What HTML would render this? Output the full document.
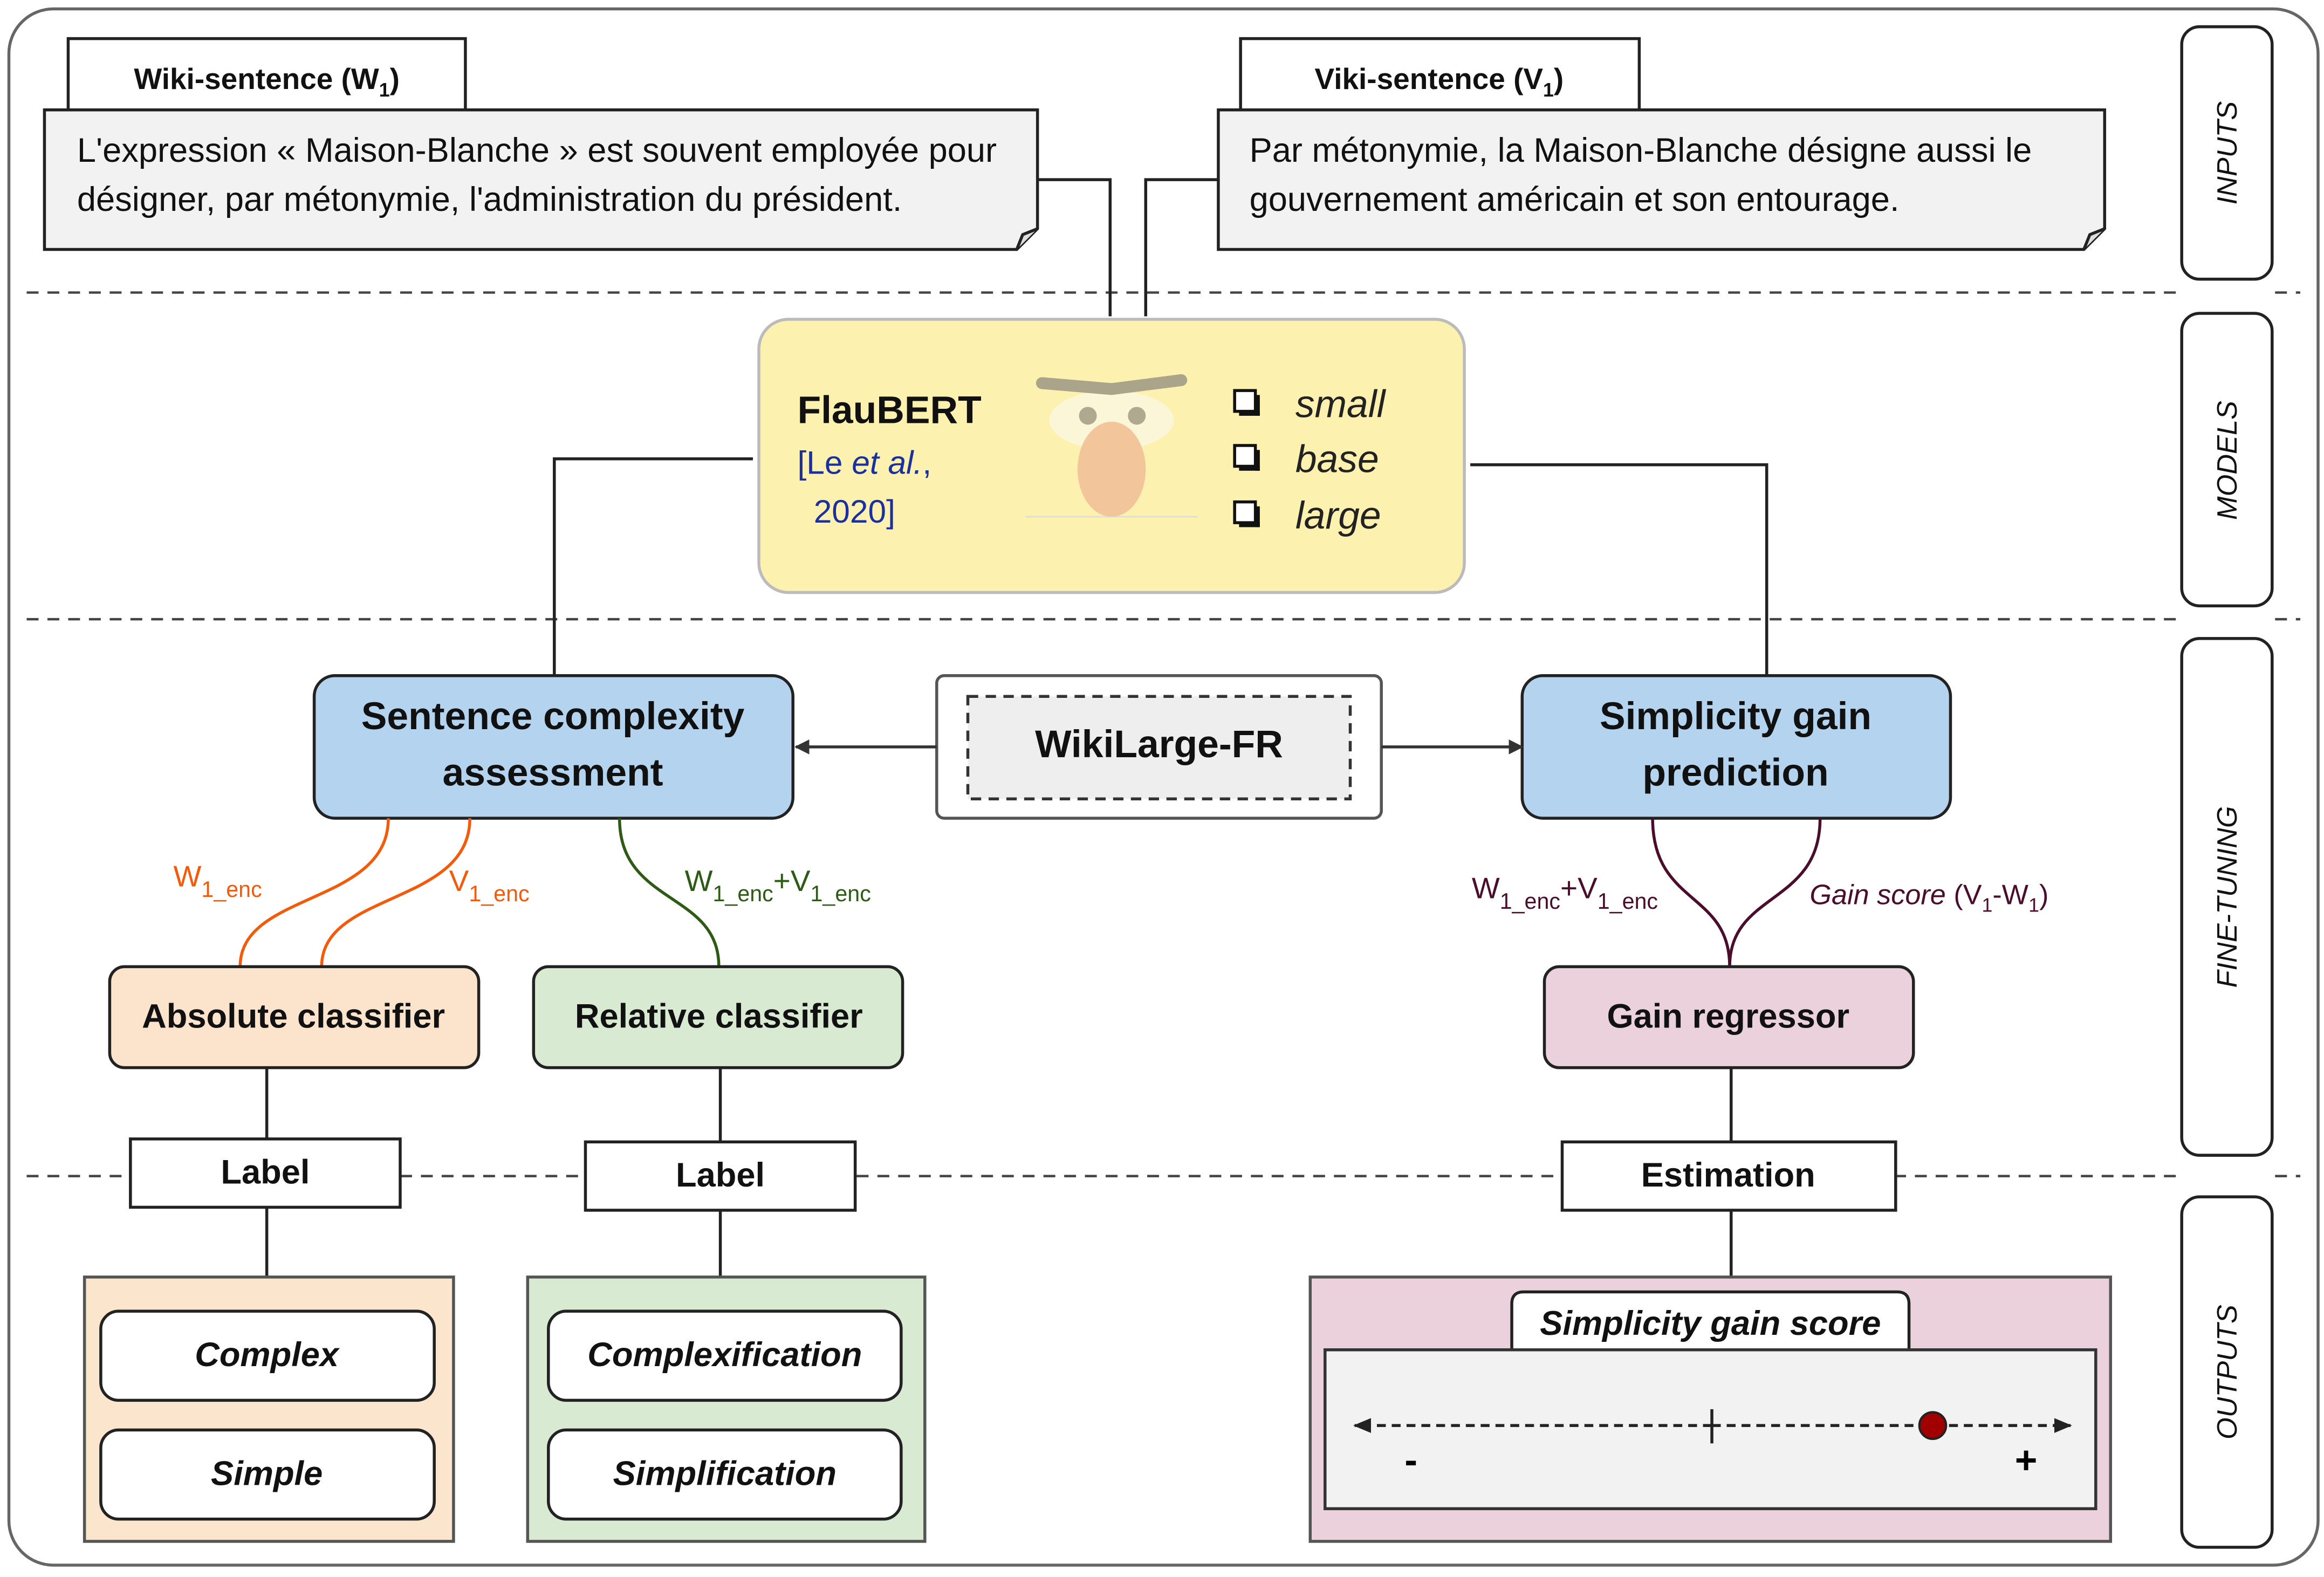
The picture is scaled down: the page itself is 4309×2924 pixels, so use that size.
<!DOCTYPE html>
<html><head><meta charset="utf-8"><style>
html,body{margin:0;padding:0;background:#fff}
svg{display:block}
text{font-family:"Liberation Sans",sans-serif}
</style></head><body>
<svg width="4309" height="2924" viewBox="0 0 1568 1062" preserveAspectRatio="none" xmlns="http://www.w3.org/2000/svg">
<defs>
<marker id="ah" markerWidth="10" markerHeight="10" refX="9" refY="5" orient="auto" markerUnits="userSpaceOnUse"><path d="M0,0 L10,5 L0,10 z" fill="#333"/></marker>
<marker id="ah2" markerWidth="12" markerHeight="10" refX="11" refY="5" orient="auto" markerUnits="userSpaceOnUse"><path d="M0,0 L12,5 L0,10 z" fill="#222"/></marker>
</defs>
<rect x="6" y="6" width="1558" height="1048" rx="30" fill="#fff" stroke="#666" stroke-width="2"/>
<g stroke="#444" stroke-width="1.6" stroke-dasharray="8,6">
<line x1="18" y1="197" x2="1470" y2="197"/><line x1="1535" y1="197" x2="1552" y2="197"/>
<line x1="18" y1="417" x2="1470" y2="417"/><line x1="1535" y1="417" x2="1552" y2="417"/>
<line x1="18" y1="792" x2="1470" y2="792"/><line x1="1535" y1="792" x2="1552" y2="792"/>
</g>
<g fill="#fff" stroke="#222" stroke-width="2">
<rect x="1472" y="18" width="61" height="170" rx="12"/>
<rect x="1472" y="211" width="61" height="197" rx="12"/>
<rect x="1472" y="430" width="61" height="348" rx="12"/>
<rect x="1472" y="806" width="61" height="236" rx="12"/>
</g>
<g font-size="19" font-style="italic" fill="#111" text-anchor="middle">
<text transform="translate(1509,103) rotate(-90)">INPUTS</text>
<text transform="translate(1509,310) rotate(-90)">MODELS</text>
<text transform="translate(1509,604) rotate(-90)">FINE-TUNING</text>
<text transform="translate(1509,924) rotate(-90)">OUTPUTS</text>
</g>
<g stroke="#222" stroke-width="2">
<rect x="46" y="26" width="268" height="48" fill="#fff"/>
<path d="M30,74 H700 V154 L686,168 H30 Z" fill="#f2f2f2"/>
<path d="M686,168 L690,158 L700,154" fill="#ddd"/>
<rect x="837" y="26" width="269" height="48" fill="#fff"/>
<path d="M822,74 H1420 V154 L1406,168 H822 Z" fill="#f2f2f2"/>
<path d="M1406,168 L1410,158 L1420,154" fill="#ddd"/>
</g>
<g font-size="20" font-weight="bold" fill="#111" text-anchor="middle">
<text x="180" y="60">Wiki-sentence (W<tspan font-size="13" dy="5">1</tspan><tspan dy="-5">)</tspan></text>
<text x="971" y="60">Viki-sentence (V<tspan font-size="13" dy="5">1</tspan><tspan dy="-5">)</tspan></text>
</g>
<g font-size="23" fill="#111">
<text x="52" y="109">L'expression « Maison-Blanche » est souvent employée pour</text>
<text x="52" y="142">désigner, par métonymie, l'administration du président.</text>
<text x="843" y="109">Par métonymie, la Maison-Blanche désigne aussi le</text>
<text x="843" y="142">gouvernement américain et son entourage.</text>
</g>
<g fill="none" stroke="#222" stroke-width="2">
<path d="M700,121 H749 V213"/>
<path d="M822,121 H773 V213"/>
<path d="M508,309 H374 V455"/>
<path d="M992,313 H1192 V455"/>
</g>
<rect x="512" y="215" width="476" height="184" rx="20" fill="#fdf1b0" stroke="#bbb" stroke-width="2"/>
<text x="538" y="285" font-size="26" font-weight="bold" fill="#111">FlauBERT</text>
<text x="538" y="319" font-size="22" fill="#1a2fa0">[Le <tspan font-style="italic">et al.</tspan>,</text>
<text x="549" y="352" font-size="22" fill="#1a2fa0">2020]</text>
<g>
<line x1="692" y1="348" x2="808" y2="348" stroke="#ddd" stroke-width="1"/>
<ellipse cx="750" cy="283" rx="42" ry="20" fill="#fbf6d8"/>
<path d="M703,258 L750,262 L797,256" stroke="#aaa48a" stroke-width="8" fill="none" stroke-linecap="round"/>
<circle cx="734" cy="280" r="6" fill="#b0a990"/>
<circle cx="767" cy="280" r="6" fill="#b0a990"/>
<ellipse cx="750" cy="316" rx="23" ry="32" fill="#f2c69a"/>
</g>
<g font-size="26" font-style="italic" fill="#222">
<text x="874" y="281">small</text>
<text x="874" y="318">base</text>
<text x="874" y="356">large</text>
</g>
<g fill="#fff" stroke="#111" stroke-width="2">
<rect x="833" y="263" width="14" height="14"/><rect x="833" y="300" width="14" height="14"/><rect x="833" y="338" width="14" height="14"/>
</g>
<g fill="#111"><rect x="847" y="266" width="3" height="14"/><rect x="836" y="277" width="14" height="3"/>
<rect x="847" y="303" width="3" height="14"/><rect x="836" y="314" width="14" height="3"/>
<rect x="847" y="341" width="3" height="14"/><rect x="836" y="352" width="14" height="3"/></g>
<rect x="212" y="455" width="323" height="96" rx="14" fill="#b4d3ee" stroke="#222" stroke-width="2"/>
<rect x="1027" y="455" width="289" height="96" rx="14" fill="#b4d3ee" stroke="#222" stroke-width="2"/>
<rect x="632" y="455" width="300" height="96" rx="5" fill="#fff" stroke="#555" stroke-width="2"/>
<rect x="653" y="469" width="258" height="69" fill="#eee" stroke="#333" stroke-width="2" stroke-dasharray="7,5"/>
<g font-size="26" font-weight="bold" fill="#111" text-anchor="middle">
<text x="373" y="491">Sentence complexity</text>
<text x="373" y="529">assessment</text>
<text x="1171" y="491">Simplicity gain</text>
<text x="1171" y="529">prediction</text>
<text x="782" y="510">WikiLarge-FR</text>
</g>
<line x1="632" y1="503" x2="537" y2="503" stroke="#333" stroke-width="2" marker-end="url(#ah)"/>
<line x1="932" y1="503" x2="1027" y2="503" stroke="#333" stroke-width="2" marker-end="url(#ah)"/>
<g fill="none" stroke-width="2">
<path d="M262,551 C262,610 162,600 162,651" stroke="#f55a0a"/>
<path d="M317,551 C317,610 217,600 217,651" stroke="#f55a0a"/>
<path d="M418,551 C418,610 485,600 485,651" stroke="#2d5a14"/>
<path d="M1115,551 C1115,610 1167,600 1167,651" stroke="#4a0d2c"/>
<path d="M1228,551 C1228,610 1167,600 1167,651" stroke="#4a0d2c"/>
</g>
<g font-size="20">
<text x="117" y="597" fill="#f55a0a">W<tspan font-size="15" dy="7">1_enc</tspan></text>
<text x="303" y="600" fill="#f55a0a">V<tspan font-size="15" dy="7">1_enc</tspan></text>
<text x="462" y="600" fill="#2d5a14">W<tspan font-size="15" dy="7">1_enc</tspan><tspan dy="-7">+V</tspan><tspan font-size="15" dy="7">1_enc</tspan></text>
<text x="993" y="605" fill="#4a0d2c">W<tspan font-size="15" dy="7">1_enc</tspan><tspan dy="-7">+V</tspan><tspan font-size="15" dy="7">1_enc</tspan></text>
<text x="1221" y="609" fill="#4a0d2c" font-size="19"><tspan font-style="italic">Gain score</tspan> (V<tspan font-size="13" dy="5">1</tspan><tspan dy="-5">-W</tspan><tspan font-size="13" dy="5">1</tspan><tspan dy="-5">)</tspan></text>
</g>
<rect x="74" y="651" width="249" height="68" rx="10" fill="#fce3cc" stroke="#222" stroke-width="2"/>
<rect x="360" y="651" width="249" height="68" rx="10" fill="#d9ead3" stroke="#222" stroke-width="2"/>
<rect x="1042" y="651" width="249" height="68" rx="10" fill="#ead1dc" stroke="#222" stroke-width="2"/>
<g font-size="23" font-weight="bold" fill="#111" text-anchor="middle">
<text x="198" y="692">Absolute classifier</text>
<text x="485" y="692">Relative classifier</text>
<text x="1166" y="692">Gain regressor</text>
</g>
<g stroke="#222" stroke-width="2">
<line x1="180" y1="719" x2="180" y2="767"/><line x1="180" y1="813" x2="180" y2="860"/>
<line x1="486" y1="719" x2="486" y2="769"/><line x1="486" y1="815" x2="486" y2="860"/>
<line x1="1168" y1="719" x2="1168" y2="769"/><line x1="1168" y1="815" x2="1168" y2="860"/>
</g>
<g fill="#fff" stroke="#222" stroke-width="2">
<rect x="88" y="767" width="182" height="46"/>
<rect x="395" y="769" width="182" height="46"/>
<rect x="1054" y="769" width="225" height="46"/>
</g>
<g font-size="23" font-weight="bold" fill="#111" text-anchor="middle">
<text x="179" y="797">Label</text>
<text x="486" y="799">Label</text>
<text x="1166" y="799">Estimation</text>
</g>
<rect x="57" y="860" width="249" height="178" fill="#fce5cd" stroke="#555" stroke-width="2"/>
<rect x="356" y="860" width="268" height="178" fill="#d9ead3" stroke="#555" stroke-width="2"/>
<rect x="884" y="860" width="540" height="178" fill="#ead1dc" stroke="#555" stroke-width="2"/>
<g fill="#fff" stroke="#222" stroke-width="2">
<rect x="68" y="883" width="225" height="60" rx="12"/>
<rect x="68" y="963" width="225" height="60" rx="12"/>
<rect x="370" y="883" width="238" height="60" rx="12"/>
<rect x="370" y="963" width="238" height="60" rx="12"/>
<path d="M1020,909 V878 Q1020,870 1028,870 H1280 Q1288,870 1288,878 V909"/>
</g>
<rect x="894" y="909" width="520" height="107" fill="#f2f2f2" stroke="#333" stroke-width="2"/>
<g font-size="23" font-weight="bold" font-style="italic" fill="#111" text-anchor="middle">
<text x="180" y="920">Complex</text>
<text x="180" y="1000">Simple</text>
<text x="489" y="920">Complexification</text>
<text x="489" y="1000">Simplification</text>
<text x="1154" y="899">Simplicity gain score</text>
</g>
<line x1="1155" y1="960" x2="914" y2="960" stroke="#222" stroke-width="2" stroke-dasharray="6,4" marker-end="url(#ah2)"/>
<line x1="1155" y1="960" x2="1397" y2="960" stroke="#222" stroke-width="2" stroke-dasharray="6,4" marker-end="url(#ah2)"/>
<line x1="1155" y1="949" x2="1155" y2="972" stroke="#222" stroke-width="2"/>
<circle cx="1304" cy="960" r="9" fill="#a00000" stroke="#222" stroke-width="1.5"/>
<text x="952" y="992" font-size="26" font-weight="bold" text-anchor="middle">-</text>
<text x="1367" y="992" font-size="26" font-weight="bold" text-anchor="middle">+</text>
</svg>
</body></html>
